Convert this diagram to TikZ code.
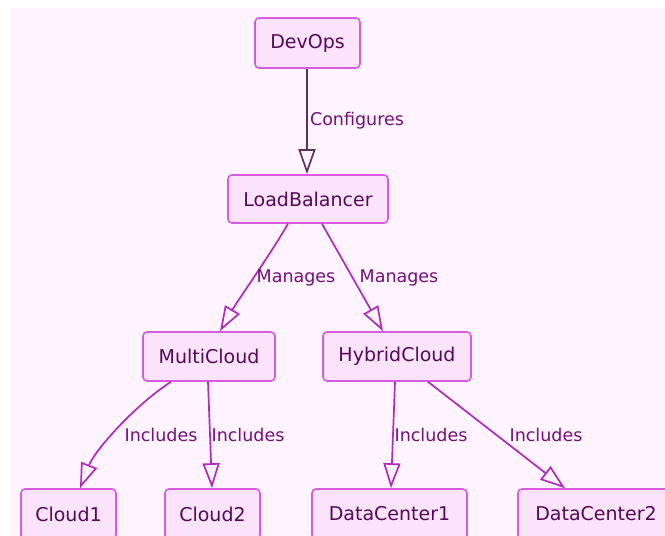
\documentclass[tikz,border=0pt]{standalone}
\usepackage{fontspec}
\setmainfont{DejaVu Sans}
\usetikzlibrary{arrows.meta}
\definecolor{canvas}{HTML}{FFF4FF}
\definecolor{boxfill}{HTML}{FBE4FB}
\definecolor{boxline}{HTML}{D85AE0}
\definecolor{boxtext}{HTML}{560858}
\definecolor{edgecol}{HTML}{B02AC0}
\definecolor{darkedge}{HTML}{5E3060}
\definecolor{lbltext}{HTML}{740F7A}
\tikzset{
  box/.style={draw=boxline, fill=boxfill, line width=1.6pt, rounded corners=4pt,
    inner sep=0pt, minimum height=49pt, text=boxtext, font=\fontsize{19}{22}\selectfont},
  link/.style={draw=edgecol, line width=1.7pt,
    -{Triangle[open, length=25pt, width=17pt, line width=1.7pt]}},
  lbl/.style={text=lbltext, inner sep=0pt, font=\fontsize{17.5}{20}\selectfont}
}
\begin{document}
\begin{tikzpicture}[x=1pt, y=-1pt]
  \useasboundingbox (0,0) rectangle (665,536);
  \fill[canvas] (10,8) rectangle (665,536);

  % nodes
  \node[box, minimum width=105pt, minimum height=50pt] (dev) at (307.5,43) {DevOps};
  \node[box, minimum width=160pt, minimum height=48pt] (lb) at (308,199) {LoadBalancer};
  \node[box, minimum width=132pt] (mc) at (209,356.5) {MultiCloud};
  \node[box, minimum width=148pt] (hc) at (397,356.5) {HybridCloud};
  \node[box, minimum width=95pt, minimum height=50pt] (c1) at (68.5,514) {Cloud1};
  \node[box, minimum width=95pt, minimum height=50pt] (c2) at (212.5,514) {Cloud2};
  \node[box, minimum width=155pt, minimum height=50pt] (dc1) at (389.5,514) {DataCenter1};
  \node[box, minimum width=156pt, minimum height=50pt] (dc2) at (596,514) {DataCenter2};

  % connectors
  \draw[link, draw=darkedge] ([xshift=-0.5pt]dev.south) -- ([xshift=-1pt]lb.north);
  \draw[link] ([xshift=-20pt]lb.south) .. controls (270,255) and (238,300) .. ([xshift=11pt]mc.north);
  \draw[link] ([xshift=14pt]lb.south) -- ([xshift=-14pt]hc.north);
  \draw[link] ([xshift=-38pt]mc.south) .. controls (135,405) and (95,450) .. ([xshift=11.5pt]c1.north);
  \draw[link] ([xshift=-1pt]mc.south) -- ([xshift=-0.5pt]c2.north);
  \draw[link] ([xshift=-2pt]hc.south) -- ([xshift=1.5pt]dc1.north);
  \draw[link] ([xshift=31pt]hc.south) -- ([xshift=-31pt]dc2.north);

  % connector labels
  \node[lbl] (l1) at (357,121) {Configures};
  \node[lbl] (l2) at (296,278) {Manages};
  \node[lbl] (l3) at (399,278) {Manages};
  \node[lbl] (l4) at (161,435) {Includes};
  \node[lbl] (l5) at (248,435) {Includes};
  \node[lbl] (l6) at (431,435) {Includes};
  \node[lbl] (l7) at (546,435) {Includes};
\end{tikzpicture}
\end{document}
